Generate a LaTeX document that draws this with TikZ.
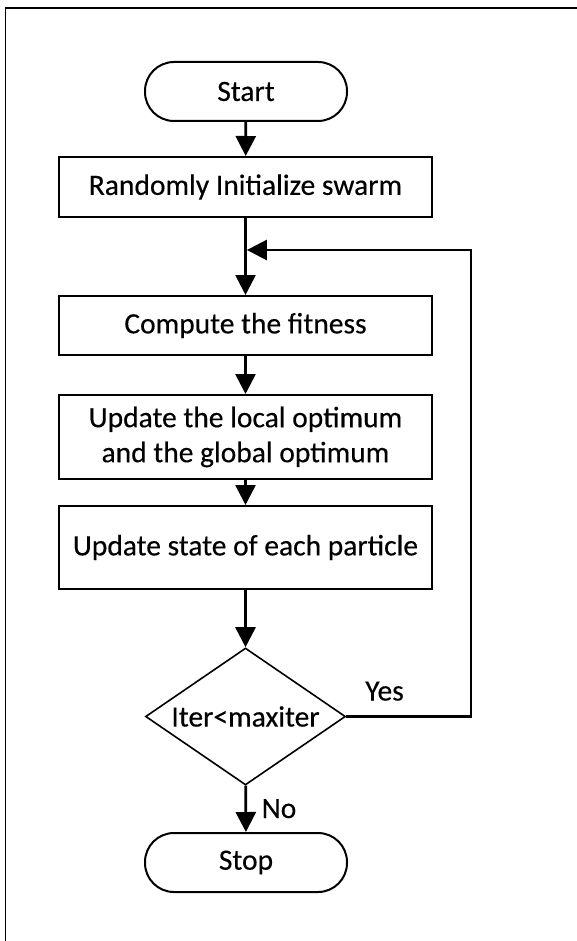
\documentclass[tikz,border=0pt]{standalone}
\usepackage{fontspec}
\setmainfont{Carlito}[FakeBold=0.3]
\usetikzlibrary{arrows.meta,shapes.geometric}
\begin{document}
\begin{tikzpicture}[x=1pt,y=-1pt,
  every node/.style={font=\fontsize{29.5}{35}\selectfont},
  proc/.style={draw, line width=2pt, minimum width=373pt, align=center, inner sep=0pt},
  term/.style={draw, line width=2pt, rounded corners=29pt, minimum width=202pt, minimum height=59pt, inner sep=0pt},
  dec/.style={draw, diamond, line width=1.6pt, minimum width=200pt, minimum height=137pt, aspect=1.46, inner sep=0pt},
  conn/.style={line width=2.7pt, -{Triangle[width=20pt,length=20pt]}},
  lbl/.style={anchor=base, inner sep=0pt}
]
\useasboundingbox[fill=white] (0,0) rectangle (577,941);
\begin{scope}
\clip (0,0) rectangle (577,941);
\draw[line width=1.5pt] (5.5,960) -- (5.5,8) -- (600,8);
\end{scope}

\node[term] (start) at (246,91.5) {Start};
\node[proc, minimum height=60pt] (init) at (245.5,187) {Randomly Initialize swarm};
\node[proc, minimum height=59pt] (fit) at (245.5,325.5) {Compute the fitness};
\node[proc, minimum height=84pt] (upd) at (245.5,437) {Update the local optimum\\and the global optimum};
\node[proc, minimum height=83pt] (state) at (245.5,547.5) {Update state of each particle};
\node[dec] (dec) at (245.5,716.5) {Iter<maxiter};
\node[term] (stop) at (246,862.5) {Stop};

\node[lbl] (yes) at (384.5,700.5) {Yes};
\node[lbl] (no) at (279,818) {No};

\coordinate (yr) at (471,716.5);
\coordinate (yt) at (471,250);
\coordinate (join) at (246.9,250);

\draw[conn] (start) -- (init);
\draw[conn] (init) -- (fit);
\draw[conn] (fit) -- (upd);
\draw[conn] (upd) -- (state);
\draw[conn] (state) -- (dec);
\draw[conn] (dec) -- (stop);
\draw[conn] (dec.east) -- (yr) -- (yt) -- (join);
\end{tikzpicture}
\end{document}
